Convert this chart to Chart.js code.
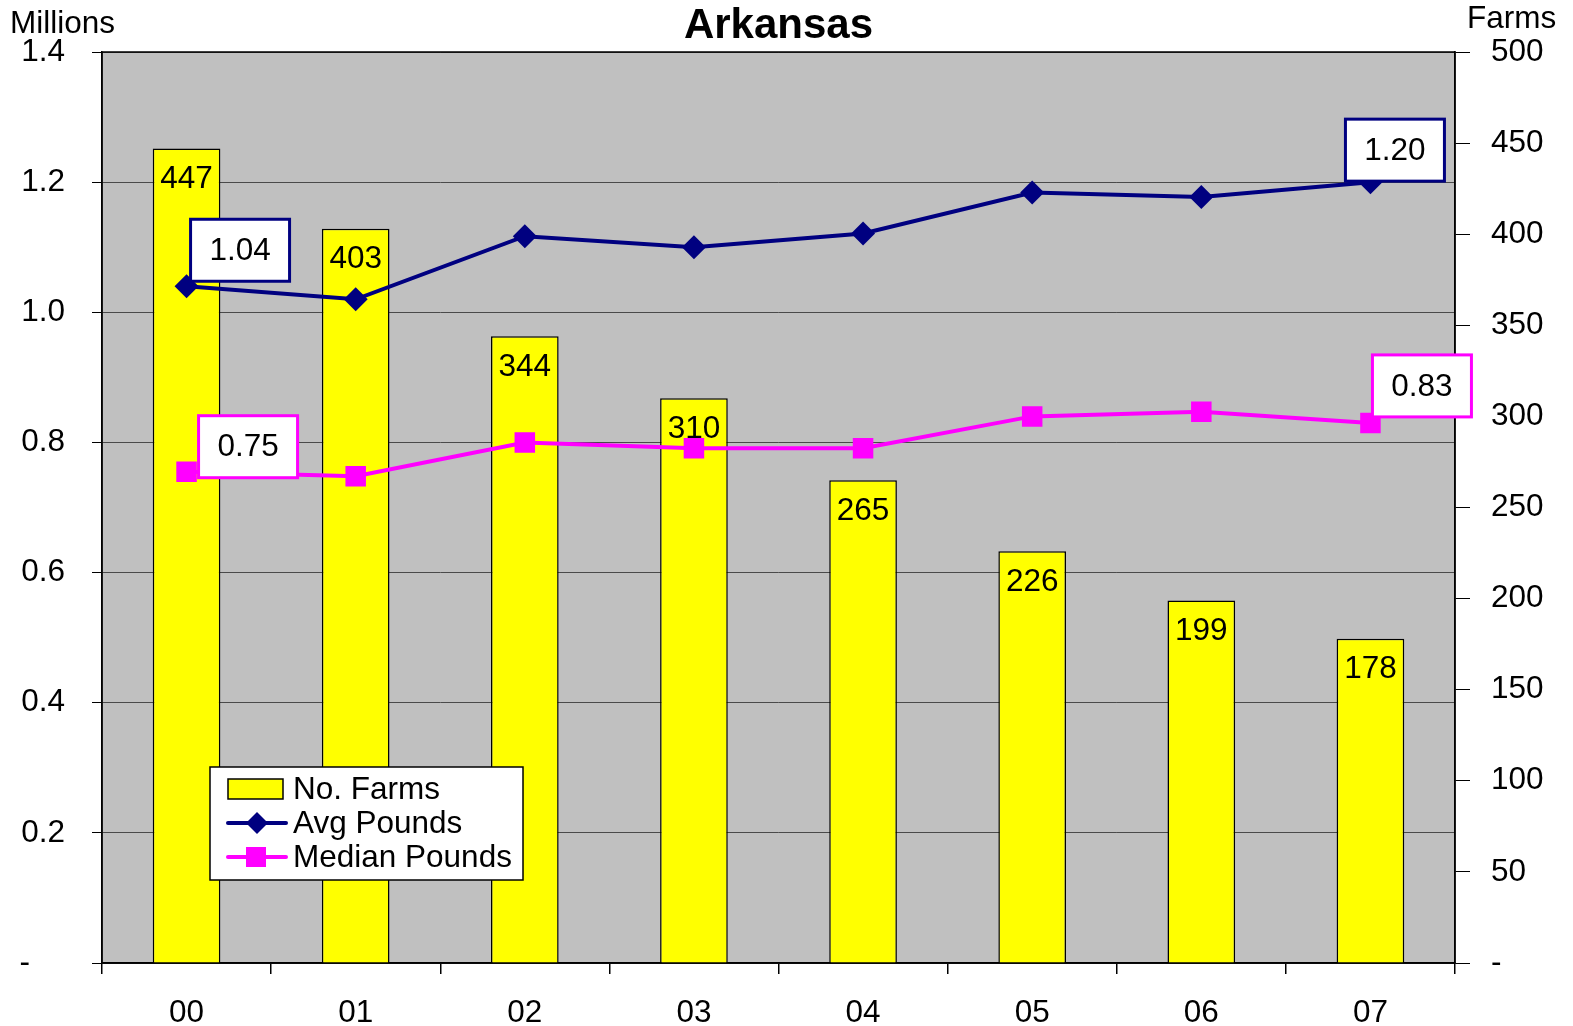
<!DOCTYPE html>
<html>
<head>
<meta charset="utf-8">
<script src="https://cdn.jsdelivr.net/npm/chart.js@4.4.1/dist/chart.umd.min.js"></script>
<style>
html,body{margin:0;padding:0;background:#fff;}
#wrap{width:1573px;height:1026px;position:relative;}
</style>
</head>
<body>
<div id="wrap"><canvas id="c" width="1573" height="1026"></canvas></div>
<script>
// ---- Data ----
const categories = ['00','01','02','03','04','05','06','07'];
const farms = [447, 403, 344, 310, 265, 226, 199, 178];
const avgPounds = [1.04, 1.02, 1.117, 1.10, 1.121, 1.184, 1.177, 1.20];
const medianPounds = [0.755, 0.748, 0.80, 0.791, 0.791, 0.84, 0.847, 0.83];
const avgCallouts = {0: '1.04', 7: '1.20'};
const medianCallouts = {0: '0.75', 7: '0.83'};
const title = 'Arkansas';
const leftAxisTitle = 'Millions';
const rightAxisTitle = 'Farms';

const FONT = "'Liberation Sans', Arial, sans-serif";
const FS = 31.5;

const overlay = {
  id: 'overlay',
  beforeDraw(chart) {
    const {ctx, chartArea: a} = chart;
    ctx.save();
    ctx.fillStyle = '#C0C0C0';
    ctx.fillRect(a.left, a.top, a.right - a.left, a.bottom - a.top);
    ctx.restore();
  },
  beforeDatasetsDraw(chart) {
    const {ctx, chartArea: a} = chart;
    ctx.save();
    ctx.strokeStyle = '#000';
    ctx.lineWidth = 1.5;
    ctx.strokeRect(a.left, a.top, a.right - a.left, a.bottom - a.top);
    ctx.restore();
  },
  afterDatasetsDraw(chart) {
    const {ctx} = chart;
    ctx.save();
    ctx.font = FS + 'px ' + FONT;
    ctx.fillStyle = '#000';
    ctx.textAlign = 'center';
    ctx.textBaseline = 'middle';
    // bar labels
    const barMeta = chart.getDatasetMeta(0);
    barMeta.data.forEach((el, i) => {
      ctx.fillText(String(farms[i]), el.x, el.y + 31);
    });
    // callouts
    function box(el, text, color, dx, dy) {
      const w = 99, h = 62;
      const x = el.x + dx, y = el.y + dy;
      ctx.fillStyle = '#fff';
      ctx.fillRect(x, y, w, h);
      ctx.strokeStyle = color;
      ctx.lineWidth = 3;
      ctx.strokeRect(x, y, w, h);
      ctx.fillStyle = '#000';
      ctx.fillText(text, x + w / 2, y + h / 2 + 1);
    }
    const avgMeta = chart.getDatasetMeta(1);
    const medMeta = chart.getDatasetMeta(2);
    const avgOff = {0: [4, -67], 7: [-25, -63]};
    const medOff = {0: [12, -56], 7: [2, -68]};
    Object.keys(avgCallouts).forEach(k => box(avgMeta.data[k], avgCallouts[k], '#000080', avgOff[k][0], avgOff[k][1]));
    Object.keys(medianCallouts).forEach(k => box(medMeta.data[k], medianCallouts[k], '#FF00FF', medOff[k][0], medOff[k][1]));
    ctx.restore();
  },
  afterDraw(chart) {
    const {ctx} = chart;
    ctx.save();
    ctx.fillStyle = '#000';
    ctx.textBaseline = 'middle';
    // title
    ctx.font = 'bold 42px ' + FONT;
    ctx.textAlign = 'center';
    const a = chart.chartArea;
    ctx.fillText(title, (a.left + a.right) / 2, 26);
    ctx.font = FS + 'px ' + FONT;
    ctx.textAlign = 'left';
    ctx.fillText(leftAxisTitle, 10, 24);
    ctx.fillText(rightAxisTitle, 1467, 19);
    // legend
    const lx = 210, ly = 767, lw = 313, lh = 113;
    ctx.fillStyle = '#fff';
    ctx.fillRect(lx, ly, lw, lh);
    ctx.strokeStyle = '#000';
    ctx.lineWidth = 1.5;
    ctx.strokeRect(lx, ly, lw, lh);
    const ds = chart.data.datasets;
    const rows = [789, 823, 857];
    // bar item
    ctx.fillStyle = '#FFFF00';
    ctx.fillRect(228, rows[0] - 10, 55, 20);
    ctx.strokeStyle = '#000';
    ctx.lineWidth = 1.5;
    ctx.strokeRect(228, rows[0] - 10, 55, 20);
    // avg item
    ctx.strokeStyle = '#000080';
    ctx.lineWidth = 4;
    ctx.lineCap = 'round';
    ctx.beginPath(); ctx.moveTo(228, rows[1]); ctx.lineTo(286, rows[1]); ctx.stroke();
    ctx.fillStyle = '#000080';
    ctx.beginPath();
    ctx.moveTo(257, rows[1] - 11); ctx.lineTo(268, rows[1]); ctx.lineTo(257, rows[1] + 11); ctx.lineTo(246, rows[1]);
    ctx.closePath(); ctx.fill();
    // median item
    ctx.strokeStyle = '#FF00FF';
    ctx.beginPath(); ctx.moveTo(228, rows[2]); ctx.lineTo(286, rows[2]); ctx.stroke();
    ctx.fillStyle = '#FF00FF';
    ctx.fillRect(246, rows[2] - 10, 20, 20);
    ctx.fillStyle = '#000';
    ctx.font = FS + 'px ' + FONT;
    ds.forEach((d, i) => ctx.fillText(d.label, 293, rows[i] + 1));
    ctx.restore();
  }
};

new Chart(document.getElementById('c'), {
  type: 'bar',
  data: {
    labels: categories,
    datasets: [
      {
        type: 'bar', label: 'No. Farms', data: farms, yAxisID: 'yR',
        backgroundColor: '#FFFF00', borderColor: '#000', borderWidth: 1.5,
        categoryPercentage: 1, barPercentage: 0.4, order: 3
      },
      {
        type: 'line', label: 'Avg Pounds', data: avgPounds, yAxisID: 'yL',
        borderColor: '#000080', backgroundColor: '#000080', borderWidth: 4,
        pointStyle: 'rectRot', pointRadius: 12, pointHoverRadius: 12, pointBorderWidth: 0,
        tension: 0, order: 1
      },
      {
        type: 'line', label: 'Median Pounds', data: medianPounds, yAxisID: 'yL',
        borderColor: '#FF00FF', backgroundColor: '#FF00FF', borderWidth: 4,
        pointStyle: 'rect', pointRadius: 14.5, pointHoverRadius: 14.5, pointBorderWidth: 0,
        tension: 0, order: 2
      }
    ]
  },
  options: {
    responsive: false,
    animation: false,
    events: [],
    layout: {padding: {top: 52, left: 0, right: 0, bottom: 0}},
    plugins: {legend: {display: false}, tooltip: {enabled: false}, title: {display: false}},
    scales: {
      x: {
        offset: true,
        grid: {offset: true, drawOnChartArea: false, tickLength: 11, color: '#000', lineWidth: 1.5},
        border: {color: '#000', width: 1.5},
        ticks: {color: '#000', font: {family: FONT, size: FS}, padding: 20, maxRotation: 0},
        afterFit(s) { s.height = 63; }
      },
      yL: {
        position: 'left', min: 0, max: 1.4,
        afterBuildTicks(s) { s.ticks = [0,0.2,0.4,0.6,0.8,1.0,1.2,1.4].map(v => ({value: v})); },
        grid: {color: '#4a4a4a', lineWidth: 1, tickLength: 10, tickColor: '#000'},
        border: {color: '#000', width: 1.5},
        ticks: {color: '#000', font: {family: FONT, size: FS}, padding: 27,
          callback: v => v === 0 ? '-    ' : v.toFixed(1)},
        afterFit(s) { s.width = 102; }
      },
      yR: {
        position: 'right', min: 0, max: 500,
        afterBuildTicks(s) { const t = []; for (let v = 0; v <= 500; v += 50) t.push({value: v}); s.ticks = t; },
        grid: {drawOnChartArea: false, tickLength: 15, color: '#000', lineWidth: 1},
        border: {color: '#000', width: 1.5},
        ticks: {color: '#000', font: {family: FONT, size: FS}, padding: 21,
          callback: v => v === 0 ? '-' : String(v)},
        afterFit(s) { s.width = 118; }
      }
    }
  },
  plugins: [overlay]
});
</script>
</body>
</html>
